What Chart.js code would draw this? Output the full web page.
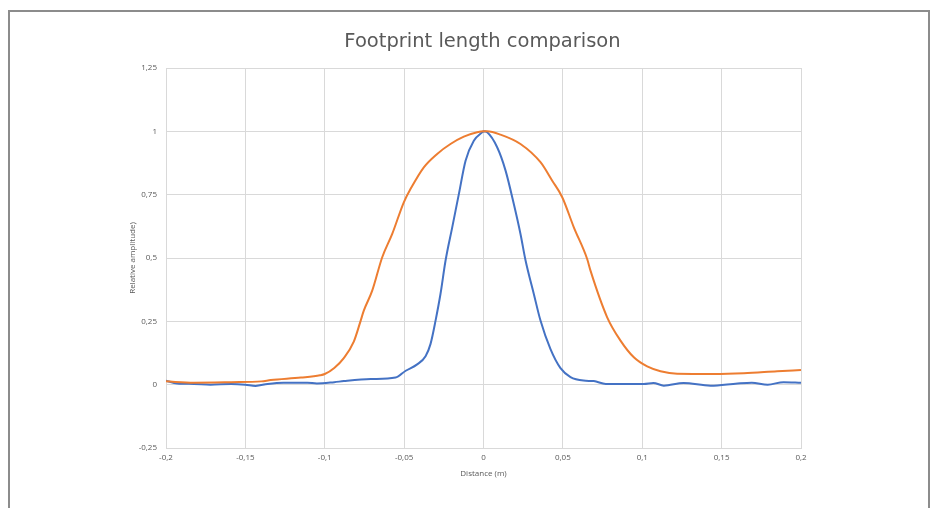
<!DOCTYPE html>
<html>
<head>
<meta charset="utf-8">
<script src="https://cdn.jsdelivr.net/npm/chart.js@4/dist/chart.umd.min.js"></script>
<style>
  html, body { margin: 0; padding: 0; background: #fff; overflow: hidden; }
  #frame { position: absolute; left: 8px; top: 10px; width: 918px; height: 600px; border: 2px solid #8c8c8c; }
  #myChart { position: absolute; left: 0; top: 0; }
</style>
</head>
<body>
<div id="frame"></div>
<canvas id="myChart" width="937" height="508"></canvas>
<script>
// ---------- data
const chartTitle = "Footprint length comparison";
const xTitle = "Distance (m)";
const yTitle = "Relative amplitude)";

const xTickLabels = ["-0,2", "-0,15", "-0,1", "-0,05", "0", "0,05", "0,1", "0,15", "0,2"];
const yTickLabels = ["-0,25", "0", "0,25", "0,5", "0,75", "1", "1,25"];

// narrow footprint (blue)
const blueX = [-0.2, -0.193, -0.1825, -0.172, -0.159, -0.15, -0.1436, -0.136, -0.126, -0.111, -0.105, -0.094,
  -0.088, -0.071, -0.0554, -0.049, -0.0418, -0.0365, -0.0334, -0.0302, -0.0271, -0.0239, -0.0197, -0.0155,
  -0.0113, -0.0061, -0.0008, 0, 0.0023, 0.0086, 0.0139, 0.0191, 0.0233, 0.0265, 0.0317, 0.0359, 0.0422,
  0.0485, 0.0548, 0.063, 0.0695, 0.077, 0.101, 0.107, 0.1136, 0.126, 0.143, 0.16, 0.169, 0.179, 0.189, 0.2];
const blueY = [0.016, 0.005, 0.003, 0, 0.003, 0, -0.005, 0.003, 0.008, 0.008, 0.005, 0.01,
  0.014, 0.022, 0.028, 0.055, 0.08, 0.112, 0.16, 0.253, 0.358, 0.49, 0.621, 0.753,
  0.884, 0.963, 0.996, 1, 0.996, 0.937, 0.845, 0.713, 0.595, 0.49, 0.358, 0.253, 0.14,
  0.065, 0.03, 0.016, 0.014, 0.003, 0.003, 0.007, -0.004, 0.007, -0.004, 0.005, 0.008, 0, 0.01, 0.008];

// wide footprint (orange)
const orangeX = [-0.2, -0.1825, -0.159, -0.14, -0.134, -0.115, -0.103, -0.1, -0.094, -0.088, -0.0817, -0.0775,
  -0.0754, -0.0701, -0.0638, -0.0575, -0.0502, -0.046, -0.0376, -0.0292, -0.0208, -0.0124, -0.004, 0,
  0.0023, 0.0107, 0.0233, 0.0359, 0.0433, 0.0496, 0.0569, 0.0653, 0.0674, 0.0779, 0.0863, 0.0947, 0.1031,
  0.1115, 0.122, 0.145, 0.164, 0.185, 0.2];
const orangeY = [0.013, 0.008, 0.01, 0.013, 0.018, 0.028, 0.037, 0.042, 0.066, 0.105, 0.17, 0.25,
  0.292, 0.371, 0.503, 0.595, 0.72, 0.772, 0.858, 0.911, 0.95, 0.979, 0.996, 1,
  1, 0.987, 0.95, 0.878, 0.805, 0.74, 0.621, 0.496, 0.45, 0.266, 0.174, 0.108, 0.072,
  0.053, 0.043, 0.042, 0.045, 0.053, 0.058];

function topoints(xs, ys) {
  let pts = [];
  for (let i = 0; i < xs.length; i++) {
    pts.push({ x: xs[i], y: ys[i] });
  }
  return pts;
}

const grey = "#595959";
const tickfont = { family: "'Open Sans', sans-serif", size: 8 };

const ctx = document.getElementById("myChart");
new Chart(ctx, {
  type: "scatter",
  data: {
    datasets: [
      {
        label: "orange",
        data: topoints(orangeX, orangeY),
        showLine: true,
        borderColor: "#ED7D31",
        borderWidth: 2,
        pointRadius: 0,
        cubicInterpolationMode: "monotone",
        order: 0,
      },
      {
        label: "blue",
        data: topoints(blueX, blueY),
        showLine: true,
        borderColor: "#4472C4",
        borderWidth: 2,
        pointRadius: 0,
        cubicInterpolationMode: "monotone",
        order: 1,
      },
    ],
  },
  options: {
    responsive: false,
    devicePixelRatio: 1,
    animation: false,
    // left padding is larger so the title centres over the plot
    layout: { padding: { left: 28, right: 0, top: 0, bottom: 25 } },
    plugins: {
      legend: { display: false },
      tooltip: { enabled: false },
      title: {
        display: true,
        text: chartTitle,
        color: grey,
        font: { family: "'DejaVu Sans', sans-serif", size: 19.5, weight: "normal" },
        padding: { top: 30, bottom: 14.6 },
      },
    },
    scales: {
      x: {
        type: "linear",
        min: -0.2,
        max: 0.2,
        ticks: {
          stepSize: 0.05,
          color: grey,
          font: tickfont,
          padding: 5,
          maxRotation: 0,
          callback: (v, i) => xTickLabels[i],
        },
        grid: { color: "#d9d9d9", drawTicks: false },
        border: { color: "#d9d9d9" },
        title: { display: true, text: xTitle, color: grey, font: tickfont, padding: { top: 0, bottom: 4 } },
        afterFit: (axis) => { axis.height = 35; },
      },
      y: {
        min: -0.25,
        max: 1.25,
        ticks: {
          stepSize: 0.25,
          color: grey,
          font: tickfont,
          padding: 9,
          callback: (v, i) => yTickLabels[i],
        },
        grid: { color: "#d9d9d9", drawTicks: false },
        border: { color: "#d9d9d9" },
        title: { display: true, text: yTitle, color: grey, font: tickfont, padding: { top: 100.2, bottom: 0 } },
        afterFit: (axis) => { axis.width = 138; },
      },
      // empty right-hand axis that only reserves the white margin
      yspace: {
        position: "right",
        display: true,
        ticks: { display: false },
        grid: { display: false, drawTicks: false },
        border: { display: false },
        afterFit: (axis) => { axis.width = 136; },
      },
    },
  },
});
</script>
</body>
</html>
